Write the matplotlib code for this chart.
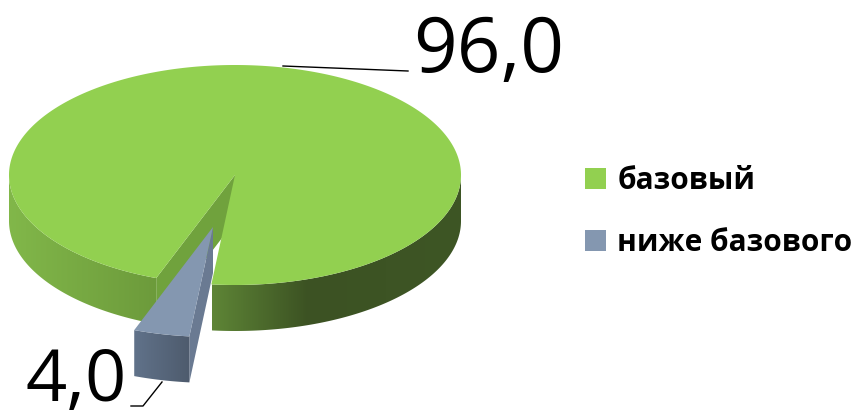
import numpy as np
import matplotlib
matplotlib.use("Agg")
import matplotlib.pyplot as plt
from matplotlib.patches import Polygon, Patch
from matplotlib.colors import LinearSegmentedColormap

# ------------------------------------------------------------
# data
# ------------------------------------------------------------
labels = ['базовый', 'ниже базового']
values = [96.0, 4.0]
value_text = ['96,0', '4,0']

top_colors = ['#92d050', '#8497b0']

plt.rcParams['font.family'] = ['Open Sans', 'DejaVu Sans']

# ------------------------------------------------------------
# geometry of the 3d pie (pixel space, y down)
# ------------------------------------------------------------
cx, cy = 235, 175
a, b = 226, 110
depth = 46
start = 96.0          # where the small slice begins (deg, clockwise on screen)
explode = (-22, 52)   # offset of the small slice

fracs = np.array(values) / np.sum(values)
t_small0 = start
t_small1 = start + 360 * fracs[1]
t_big0 = t_small1
t_big1 = start + 360


def rim(t, dx=0, dy=0, dz=0):
    t = np.radians(t)
    return np.column_stack([cx + dx + a * np.cos(t), cy + dy + dz + b * np.sin(t)])


def arc(t0, t1, n=200):
    return np.linspace(t0, t1, n)


def side_poly(t0, t1, dx=0, dy=0):
    tt = arc(t0, t1)
    top = rim(tt, dx, dy)
    bot = rim(tt[::-1], dx, dy, depth)
    return np.vstack([top, bot])


def radial_poly(t, dx=0, dy=0):
    c = np.array([[cx + dx, cy + dy]])
    r = rim(np.array([t]), dx, dy)
    return np.vstack([c, r, r + [0, depth], c + [0, depth]])


def wedge_poly(t0, t1, dx=0, dy=0):
    c = np.array([[cx + dx, cy + dy]])
    return np.vstack([c, rim(arc(t0, t1, 400), dx, dy)])


def grad_fill(ax, xy, stops, x0, x1, z):
    poly = Polygon(xy, closed=True, facecolor='none', edgecolor='none', zorder=z)
    ax.add_patch(poly)
    cmap = LinearSegmentedColormap.from_list('g', stops)
    grad = np.linspace(0, 1, 256).reshape(1, -1)
    ymin, ymax = xy[:, 1].min() - 2, xy[:, 1].max() + 2
    im = ax.imshow(grad, cmap=cmap, extent=[x0, x1, ymax, ymin], aspect='auto',
                   interpolation='bilinear', zorder=z)
    im.set_clip_path(poly)


fig = plt.figure(figsize=(8.56, 4.19), dpi=100)
ax = fig.add_axes([0, 0, 1, 1])

# big slice: sides
grad_fill(ax, side_poly(t_big0, 180), [(0, '#82b84a'), (1, '#6c9a3b')], 5, 160, 1)
grad_fill(ax, side_poly(0, t_big1 - 360), [(0, '#5e8536'), (0.38, '#3c5223'), (1, '#3e5625')],
          212, 465, 1)
ax.add_patch(Polygon(radial_poly(t_big0), closed=True, facecolor='#70a23d',
                     edgecolor='none', zorder=1))
# big slice: top
ax.add_patch(Polygon(wedge_poly(t_big0, t_big1), closed=True, facecolor=top_colors[0],
                     edgecolor='none', zorder=2))

# small slice (exploded)
dx, dy = explode
ax.add_patch(Polygon(radial_poly(t_small0, dx, dy), closed=True, facecolor='#6a7a92',
                     edgecolor='none', zorder=3))
grad_fill(ax, side_poly(t_small0, t_small1, dx, dy), [(0, '#62748c'), (1, '#4d5a6c')],
          130, 192, 3)
ax.add_patch(Polygon(wedge_poly(t_small0, t_small1, dx, dy), closed=True,
                     facecolor=top_colors[1], edgecolor='none', zorder=4))

# value labels with leader lines
ax.plot([283, 408], [66, 71], color='black', lw=1, zorder=5)
ax.text(413, 72, value_text[0], fontsize=55, ha='left', va='baseline', zorder=5)

ax.plot([162, 143, 131], [382, 406, 406], color='black', lw=1, zorder=5)
ax.text(127, 401, value_text[1], fontsize=52, ha='right', va='baseline', zorder=5)

# legend
handles = [Patch(facecolor=c, edgecolor='none') for c in top_colors]
leg = ax.legend(handles, labels, loc='upper left', bbox_to_anchor=(585 / 856, 1 - 166 / 419),
                frameon=False, prop={'weight': 'bold', 'size': 21.5},
                handlelength=0.7, handleheight=0.7, handletextpad=0.38,
                labelspacing=1.08, borderaxespad=0, borderpad=0)

ax.set_xlim(0, 856)
ax.set_ylim(419, 0)
ax.axis('off')

plt.savefig('out.png', dpi=100)
